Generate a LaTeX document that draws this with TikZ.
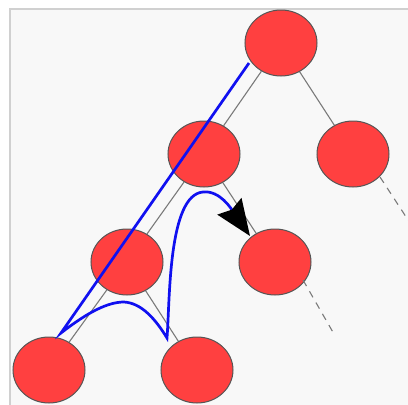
\documentclass[tikz,border=0pt]{standalone}
\usetikzlibrary{shapes.geometric,arrows.meta,calc}
\definecolor{nodered}{HTML}{FF4040}
\definecolor{nodeborder}{HTML}{555555}
\definecolor{edgegray}{HTML}{7A7A7A}
\definecolor{walkblue}{HTML}{1010F0}
\definecolor{bggray}{HTML}{F8F8F8}
\definecolor{framegray}{HTML}{D0D0D0}
\pgfdeclarelayer{bg}
\pgfdeclarelayer{edges}
\pgfsetlayers{bg,edges,main}
\begin{document}
\begin{tikzpicture}[x=1pt,y=-1pt,
  treenode/.style={ellipse,draw=nodeborder,fill=nodered,line width=1pt,
    minimum width=72pt,minimum height=66pt,inner sep=0pt},
  edge/.style={draw=edgegray,line width=1.1pt},
  dashededge/.style={edge,dash pattern=on 7pt off 6pt},
  walk/.style={draw=walkblue,line width=2.7pt,line join=miter},
  walktip/.style={-{Stealth[length=36pt,width=29pt,inset=4pt,black,fill=black]}}]
\useasboundingbox (0,0) rectangle (408,405);
\begin{pgfonlayer}{bg}
  \fill[white] (0,0) rectangle (408,405);
  \filldraw[fill=bggray,draw=framegray,line width=1.3pt] (10,9) rectangle (420,420);
\end{pgfonlayer}
% nodes
\node[treenode] (root) at (281,43) {};
\node[treenode] (A) at (204,154) {};
\node[treenode] (B) at (353,154) {};
\node[treenode] (C) at (127,262) {};
\node[treenode] (D) at (275,262) {};
\node[treenode] (E) at (49,370) {};
\node[treenode] (F) at (197,370) {};
\coordinate (Bs) at (380,177);
\coordinate (Be) at (412,226);
\coordinate (Ds) at (303,280);
\coordinate (De) at (334,334);
% edges
\begin{pgfonlayer}{edges}
  \draw[edge] (root) -- (A);
  \draw[edge] (root) -- (B);
  \draw[edge] (A) -- (C);
  \draw[edge] (A) -- (D);
  \draw[edge] (C) -- (E);
  \draw[edge] (C) -- (F);
\end{pgfonlayer}
\draw[dashededge] (Bs) -- (Be);
\draw[dashededge] (Ds) -- (De);
% walk
\coordinate (w0) at (249,63);
\coordinate (w1) at (61,333);
\coordinate (w2) at (124,302);
\coordinate (w3) at (167,338);
\coordinate (w4) at (203,192);
\coordinate (w5) at (250,236);
\draw[walk,walktip] (w0) -- (w1)
  .. controls (88,312) and (108,302) .. (w2)
  .. controls (142,303) and (156,320) .. (w3)
  .. controls (170,300) and (168,195) .. (w4)
  .. controls (220,190) and (232,210) .. (w5);
\end{tikzpicture}
\end{document}
